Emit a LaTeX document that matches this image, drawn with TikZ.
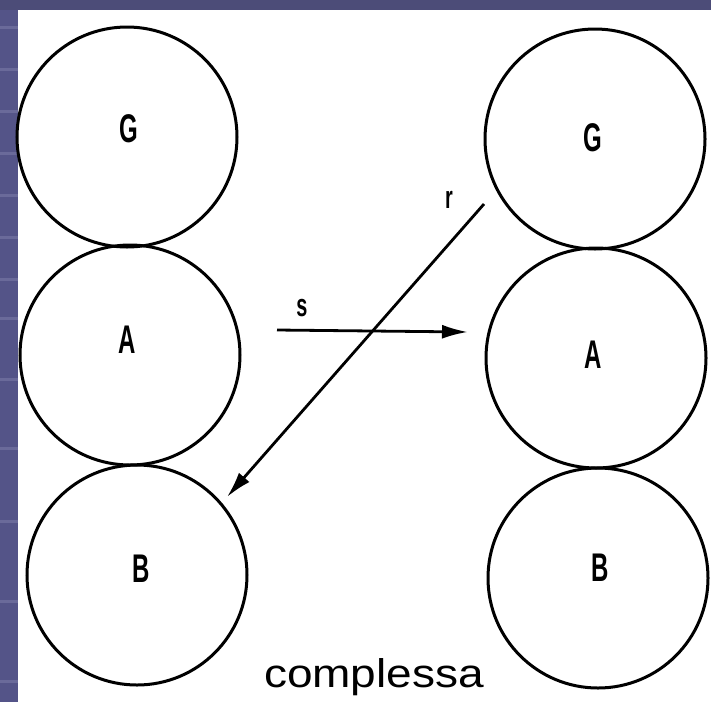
\documentclass[tikz,border=0pt]{standalone}
\usepackage{fontspec}
\setmainfont{Liberation Sans}
\usetikzlibrary{arrows.meta}
\definecolor{frameblue}{HTML}{4C4C78}
\definecolor{frameside}{HTML}{545488}
\definecolor{stripe}{HTML}{6A6A9A}
\tikzset{
  ball/.style={circle, draw=black, line width=3pt, minimum size=220pt, inner sep=0pt},
  lbl/.style={font=\fontsize{40}{40}\selectfont\bfseries, xscale=0.6, inner sep=0pt},
  small/.style={font=\fontsize{32}{32}\selectfont\bfseries, xscale=0.62, inner sep=0pt},
  link/.style={line width=2.8pt, -{Latex[length=26pt,width=14pt]}},
}
\begin{document}
\begin{tikzpicture}[x=1pt,y=-1pt]
\useasboundingbox (0,0) rectangle (711,702);
% frame
\fill[frameblue] (0,0) rectangle (711,702);
\fill[frameside] (0,10) rectangle (18,702);
\foreach \yy in {26,68,110,152,194,236,278,317,378,447,520,600,680}
  \fill[stripe] (0,\yy) rectangle (18,\yy+3);
\fill[white] (18,10) rectangle (711,702);
% left column
\node[ball] (lg) at (127,137) {};
\node[ball] (la) at (130,355) {};
\node[ball] (lb) at (137,575) {};
% right column
\node[ball] (rg) at (595,139) {};
\node[ball] (ra) at (596,358) {};
\node[ball] (rb) at (598,578) {};
% letters
\node[lbl] at (129,129) {G};
\node[lbl] at (127,340) {A};
\node[lbl] at (141,569) {B};
\node[lbl] at (593,138) {G};
\node[lbl] at (593,355) {A};
\node[lbl] at (600,568) {B};
% arrows
\coordinate (s0) at (277,330);
\coordinate (s1) at (468,332);
\coordinate (r0) at (484,204);
\coordinate (r1) at (227,497);
\draw[link] (s0) -- (s1);
\draw[link] (r0) -- (r1);
\node[small] (sl) at (302,308) {s};
\node[small] (rl) at (449,200) {r};
% caption
\node[font=\fontsize{40}{40}\selectfont, xscale=1.15, anchor=base] (cap) at (374,687) {complessa};
\end{tikzpicture}
\end{document}
